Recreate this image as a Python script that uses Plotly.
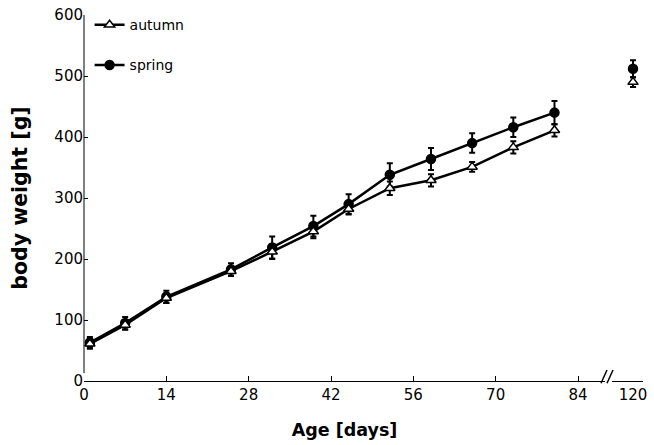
import plotly.graph_objects as go

# ---- data ----
days = [1, 7, 14, 25, 32, 39, 45, 52, 59, 66, 73, 80]
spring_mean = [63, 95, 138, 183, 219, 254, 290, 338, 364, 390, 416, 440]
spring_err = [9, 10, 10, 10, 18, 17, 16, 19, 18, 16, 16, 19]
autumn_mean = [61, 92, 136, 180, 212, 245, 282, 316, 329, 351, 383, 411]
autumn_err = [8, 8, 8, 8, 12, 11, 9, 11, 10, 8, 10, 10]

late_day = [120]
spring_late = [512]
spring_late_err = [14]
autumn_late = [490]
autumn_late_err = [8]

x_ticks = [0, 14, 28, 42, 56, 70, 84]
y_ticks = [0, 100, 200, 300, 400, 500, 600]

FONT = "DejaVu Sans"
BLACK = "black"

fig = go.Figure()

def add_series(x, y, err, name, symbol, fill, xaxis, show, rank):
    fig.add_trace(go.Scatter(
        x=x, y=y, name=name, mode="lines+markers" if show else "markers",
        xaxis=xaxis, yaxis="y",
        line=dict(color=BLACK, width=2.5),
        marker=dict(symbol=symbol, size=9,
                    color=fill, line=dict(color=BLACK, width=1.5)),
        error_y=dict(type="data", array=err, color=BLACK, thickness=2, width=3),
        showlegend=show, legendgroup=name, legendrank=rank,
    ))

add_series(days, spring_mean, spring_err, "spring", "circle", BLACK, "x", True, 2)
add_series(days, autumn_mean, autumn_err, "autumn", "triangle-up", "white", "x", True, 1)
add_series(late_day, spring_late, spring_late_err, "spring", "circle", BLACK, "x2", False, 2)
add_series(late_day, autumn_late, autumn_late_err, "autumn", "triangle-up", "white", "x2", False, 1)

W, H = 654, 445
L, R, T, B = 84, 11, 15, 64
pw = W - L - R
d1_end = (605 - L) / pw
d2_start = (612 - L) / pw
px_per_day = (578 - L) / 84.0
x1_max = (605 - L) / px_per_day
x2_min = 120 - (633 - 612) / px_per_day
x2_max = 120 + (643 - 633) / px_per_day

axis_font = dict(family=FONT, size=15, color=BLACK)

fig.update_layout(
    width=W, height=H,
    margin=dict(l=L, r=R, t=T, b=B, autoexpand=False),
    paper_bgcolor="white", plot_bgcolor="white",
    font=dict(family=FONT, color=BLACK),
    xaxis=dict(
        domain=[0, d1_end], range=[0, x1_max],
        tickvals=x_ticks, ticks="inside", ticklen=5, tickcolor=BLACK,
        showline=True, linecolor=BLACK, linewidth=1,
        showgrid=False, zeroline=False, tickfont=axis_font,
        title=dict(text="<b>Age [days]</b>", font=dict(family=FONT, size=17.5, color=BLACK), standoff=20),
        anchor="y",
    ),
    xaxis2=dict(
        domain=[d2_start, 1], range=[x2_min, x2_max],
        tickvals=late_day, ticks="", tickfont=axis_font,
        showline=True, linecolor=BLACK, linewidth=1,
        showgrid=False, zeroline=False, anchor="y",
    ),
    yaxis=dict(
        range=[0, 600], tickvals=y_ticks, ticks="inside", ticklen=4, tickcolor=BLACK,
        showline=False, showgrid=False, zeroline=False, tickfont=axis_font,
        title=dict(text="<b>body weight [g]</b>", font=dict(family=FONT, size=20.5, color=BLACK), standoff=21),
    ),
    legend=dict(
        x=0.01, y=1.016, xanchor="left", yanchor="top",
        font=dict(family=FONT, size=14, color=BLACK),
        bgcolor="rgba(0,0,0,0)", tracegroupgap=19, traceorder="grouped",
    ),
    shapes=[
        dict(type="line", xref="paper", yref="y", x0=0, x1=0, y0=13, y1=600,
             line=dict(color=BLACK, width=1)),
        dict(type="line", xref="paper", yref="paper",
             x0=(601 - L) / pw, x1=(607 - L) / pw, y0=-0.006, y1=0.03,
             line=dict(color=BLACK, width=1.5)),
        dict(type="line", xref="paper", yref="paper",
             x0=(607 - L) / pw, x1=(613 - L) / pw, y0=-0.006, y1=0.03,
             line=dict(color=BLACK, width=1.5)),
    ],
)

fig.write_html("out.html", config={"displayModeBar": False},
               post_script="document.body.style.margin='0';")
